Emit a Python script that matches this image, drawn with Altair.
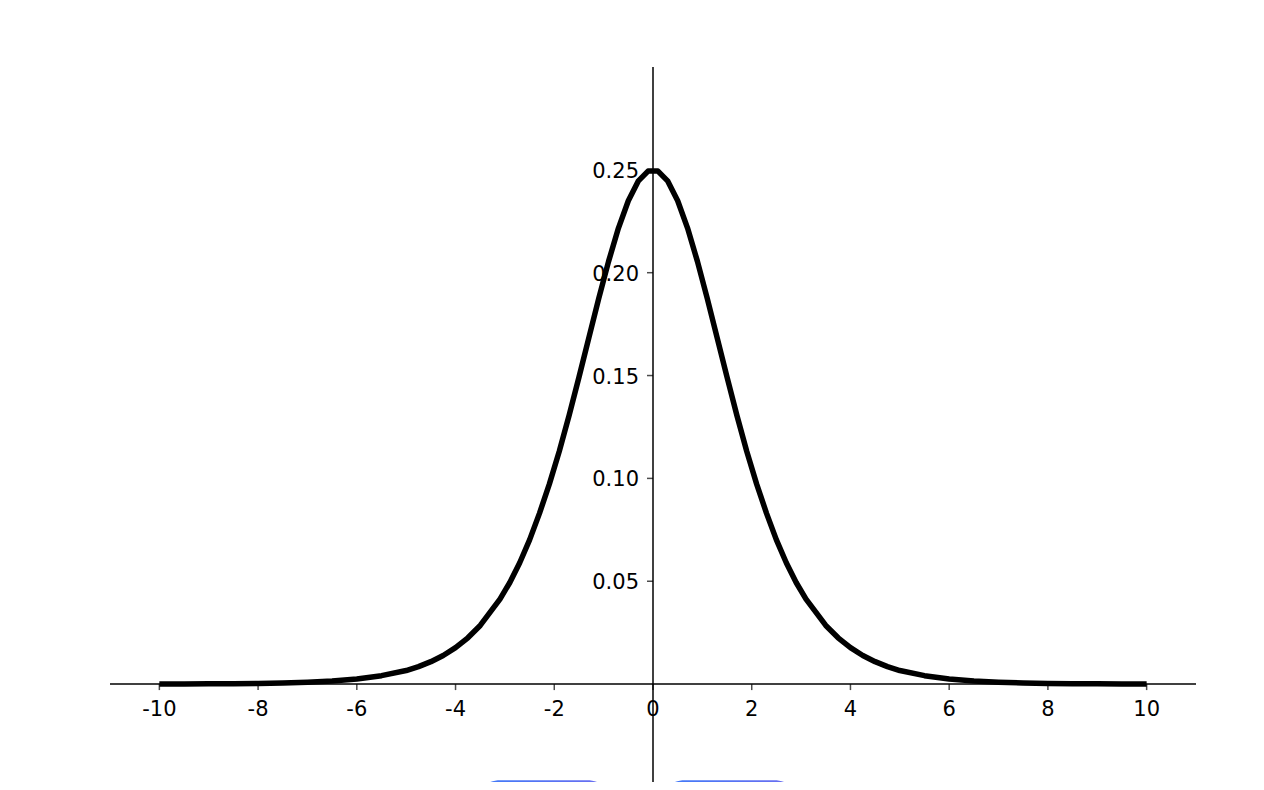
import altair as alt
import pandas as pd

# Curve values (density peaks at 0.25 at x = 0)
x_right = [0.1, 0.3, 0.5, 0.7, 0.9, 1.1, 1.3, 1.5, 1.7, 1.9, 2.1, 2.3, 2.5, 2.7, 2.9,
           3.1, 3.5, 3.75, 4, 4.25, 4.5, 4.75, 5, 5.5, 6, 6.5, 7, 7.5, 8, 8.5, 9, 9.5, 10]
y_right = [0.2494, 0.2445, 0.2350, 0.2217, 0.2055, 0.1874, 0.1683, 0.1492, 0.1306, 0.1131,
           0.0972, 0.0830, 0.0701, 0.0590, 0.0494,
           0.0413, 0.0285, 0.0225, 0.0177, 0.0139, 0.0109, 0.0085, 0.0066,
           0.0041, 0.0025, 0.0015, 0.0009, 0.00055, 0.00034, 0.0002, 0.00012, 0.000075, 0.000045]
x_vals = [-v for v in reversed(x_right)] + x_right
y_vals = list(reversed(y_right)) + y_right

x_ticks = [-10, -8, -6, -4, -2, 0, 2, 4, 6, 8, 10]
y_ticks = [0.05, 0.10, 0.15, 0.20, 0.25]

x_axis_extent = [-11, 11]
y_axis_extent = [-0.0476, 0.30]

# decorative page buttons at the bottom (data coordinates)
btn_x = [-3.66, 0.08]
btn_x2 = [-0.77, 3.02]
btn_y = [-0.0467, -0.0467]
btn_y2 = [-0.08, -0.08]

curve = pd.DataFrame({"x": x_vals, "y": y_vals})
xt = pd.DataFrame({"x": x_ticks, "y": [0] * len(x_ticks), "label": [str(v) for v in x_ticks]})
yt = pd.DataFrame({"y": y_ticks, "x": [0] * len(y_ticks), "label": [f"{v:.2f}" for v in y_ticks]})
xaxis = pd.DataFrame({"x": [x_axis_extent[0]], "x2": [x_axis_extent[1]], "y": [0]})
yaxis = pd.DataFrame({"x": [0], "y": [y_axis_extent[0]], "y2": [y_axis_extent[1]]})
btns = pd.DataFrame({"x": btn_x, "x2": btn_x2, "y": btn_y, "y2": btn_y2})

xs = alt.Scale(domain=x_axis_extent, nice=False, zero=False)
ys = alt.Scale(domain=y_axis_extent, nice=False, zero=False)

X = lambda f="x": alt.X(f, type="quantitative", scale=xs, axis=None)
Y = lambda f="y": alt.Y(f, type="quantitative", scale=ys, axis=None)

grad = alt.Gradient(
    gradient="linear",
    stops=[alt.GradientStop(color="#3d7bf8", offset=0), alt.GradientStop(color="#6e6df0", offset=1)],
    x1=0, x2=1, y1=0, y2=0,
)

buttons = alt.Chart(btns).mark_rect(cornerRadius=28, fill=grad, clip=True).encode(
    x=X(), x2="x2", y=Y(), y2="y2"
)

xline = alt.Chart(xaxis).mark_rule(color="black", strokeWidth=1.5).encode(x=X(), x2="x2", y=Y())
yline = alt.Chart(yaxis).mark_rule(color="black", strokeWidth=1.5).encode(x=X(), y=Y(), y2="y2")

xtick_marks = alt.Chart(xt).mark_tick(orient="vertical", size=6, thickness=1.5, color="black", yOffset=3).encode(x=X(), y=Y())
ytick_marks = alt.Chart(yt).mark_tick(orient="horizontal", size=6, thickness=1.5, color="black", xOffset=-3).encode(x=X(), y=Y())

xlabels = alt.Chart(xt).mark_text(font="DejaVu Sans", fontSize=21, baseline="top", align="center", dy=15, color="black").encode(
    x=X(), y=Y(), text="label:N"
)
ylabels = alt.Chart(yt).mark_text(font="DejaVu Sans", fontSize=21, baseline="middle", align="right", dx=-14, dy=2, color="black").encode(
    x=X(), y=Y(), text="label:N"
)

line = alt.Chart(curve).mark_line(color="black", strokeWidth=5.5, strokeCap="butt", strokeJoin="round").encode(x=X(), y=Y())

chart = alt.layer(buttons, xline, yline, xtick_marks, ytick_marks, line, xlabels, ylabels).properties(
    width=1086,
    height=715,
    padding={"left": 102, "top": 59, "right": 0, "bottom": 0},
    autosize="none",
).configure_view(stroke=None)

chart.save("out.html", embed_options={"renderer": "svg", "actions": False})
